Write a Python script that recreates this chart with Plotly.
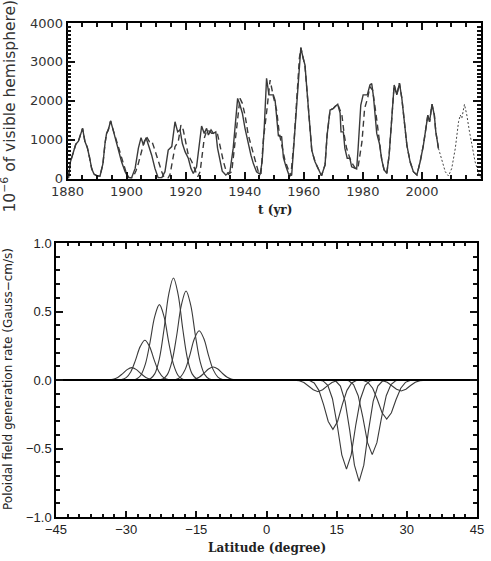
import plotly.graph_objects as go

# ---------------- Top panel data (sunspot area) ----------------
OBS_YEAR = [1880.3, 1881.0, 1882.0, 1882.8, 1883.7, 1884.5, 1885.1, 1885.9, 1886.7, 1887.4,
            1888.2, 1889.0, 1890.0, 1891.0, 1892.0, 1892.7, 1893.2, 1893.8, 1894.6, 1895.3,
            1896.1, 1896.8, 1897.5, 1898.3, 1899.5, 1900.6, 1901.7, 1902.9, 1904.0, 1904.9,
            1905.7, 1906.6, 1907.4, 1908.5, 1909.6, 1910.7, 1911.9, 1913.0, 1914.1, 1915.3,
            1916.4, 1917.3, 1918.1, 1918.9, 1919.8, 1920.9, 1921.8, 1922.6, 1923.7, 1924.5,
            1925.4, 1926.3, 1927.1, 1927.7, 1928.6, 1929.4, 1930.2, 1930.8, 1931.6, 1932.4,
            1933.6, 1935.0, 1936.1, 1936.9, 1937.6, 1938.4, 1939.2, 1940.1, 1941.0, 1942.1,
            1942.9, 1944.0, 1945.2, 1945.9, 1946.6, 1947.4, 1948.2, 1949.7, 1950.3, 1950.8,
            1951.4, 1952.5, 1953.1, 1954.0, 1955.1, 1955.9, 1956.7, 1957.6, 1958.5, 1959.0,
            1959.8, 1960.4, 1961.2, 1961.9, 1962.7, 1963.8, 1964.9, 1966.0, 1967.2, 1967.9,
            1968.9, 1970.0, 1970.6, 1971.5, 1972.3, 1972.6, 1973.4, 1973.9, 1974.7, 1975.6,
            1976.2, 1977.9, 1978.4, 1979.3, 1980.1, 1981.5, 1982.4, 1983.0, 1983.6, 1984.2,
            1984.7, 1985.6, 1986.4, 1987.2, 1988.1, 1988.9, 1989.8, 1990.6, 1991.5, 1992.4,
            1993.2, 1994.0, 1994.9, 1996.0, 1997.1, 1998.3, 1999.4, 2000.5, 2001.3, 2002.0,
            2002.6, 2003.4, 2004.2, 2004.7, 2005.6]
OBS_AREA = [5, 430, 680, 880, 960, 1120, 1290, 950, 800, 560,
            250, 110, 70, 60, 380, 900, 1150, 1250, 1480, 1290,
            1040, 850, 650, 430, 175, 20, 20, 260, 780, 1050,
            860, 1050, 860, 600, 260, 20, 20, 175, 730, 820,
            1460, 1200, 1250, 900, 690, 520, 260, 130, 300, 860,
            1350, 1160, 1290, 1120, 1250, 1160, 1200, 780, 430, 190,
            90, 175, 780, 1460, 2060, 1890, 1680, 1290, 950, 600,
            390, 175, 108, 430, 1290, 2577, 2150, 2150, 2000, 1650,
            1100, 1075, 540, 300, 64, 90, 950, 2060, 3090, 3364,
            3090, 2920, 2150, 1380, 730, 430, 260, 72, 350, 1120,
            1760, 1800, 1850, 1910, 1680, 1200, 1200, 780, 520, 520,
            300, 244, 780, 1890, 2150, 2150, 2405, 2440, 2100, 1680,
            1160, 900, 480, 220, 134, 600, 1630, 2405, 2150, 2450,
            2060, 1460, 860, 430, 175, 90, 430, 860, 1330, 1630,
            1460, 1910, 1630, 1200, 776]

MODEL_YEAR = [1880.3, 1881.0, 1882.0, 1882.8, 1883.7, 1884.5, 1885.1, 1885.9, 1886.7, 1887.4,
              1888.2, 1889.0, 1890.0, 1891.0, 1892.0, 1892.7, 1893.2, 1893.8, 1894.6, 1895.3,
              1896.1, 1896.8, 1897.5, 1898.3, 1899.2, 1900.0, 1900.8, 1901.6, 1902.3, 1903.2,
              1904.0, 1904.8, 1905.5, 1906.2, 1906.8, 1907.7, 1908.5, 1909.2, 1910.0, 1910.8,
              1911.9, 1912.6, 1913.4, 1914.0, 1914.7, 1915.5, 1916.4, 1917.5, 1918.4, 1919.2,
              1920.0, 1920.9, 1922.1, 1923.2, 1924.1, 1924.9, 1925.5, 1926.3, 1927.2, 1928.0,
              1928.8, 1929.9, 1930.8, 1932.0, 1932.8, 1933.6, 1934.5, 1935.6, 1936.5, 1937.3,
              1938.4, 1939.2, 1940.1, 1941.2, 1942.4, 1943.5, 1944.6, 1945.5, 1946.3, 1947.5,
              1948.6, 1949.7, 1950.8, 1951.7, 1952.5, 1953.6, 1954.8, 1955.6, 1956.7, 1957.6,
              1958.5, 1959.0, 1959.8, 1960.4, 1961.2, 1961.9, 1962.7, 1963.8, 1964.9, 1966.0,
              1967.2, 1967.9, 1968.9, 1970.0, 1970.6, 1971.5, 1972.9, 1973.7, 1974.5, 1975.6,
              1976.7, 1977.6, 1978.4, 1979.7, 1980.6, 1981.6, 1982.4, 1983.3, 1984.5, 1985.6,
              1986.4, 1987.2, 1988.1, 1988.9, 1989.8, 1990.6, 1991.5, 1992.4, 1993.2, 1994.0,
              1994.9, 1996.0, 1997.1, 1998.3, 1999.4, 2000.5, 2001.3, 2002.0, 2002.6, 2003.4,
              2004.2, 2004.7, 2005.6]
MODEL_AREA = [5, 430, 680, 880, 960, 1120, 1290, 950, 800, 560,
              250, 110, 70, 60, 380, 900, 1150, 1250, 1480, 1290,
              1080, 900, 720, 500, 300, 120, 30, 5, 46, 200,
              390, 650, 818, 1000, 1075, 947, 970, 820, 620, 430,
              175, 50, 5, 5, 100, 432, 818, 947, 1376, 1247,
              905, 604, 432, 219, 46, 175, 519, 1034, 1247, 1220,
              1162, 1162, 1140, 690, 432, 219, 108, 175, 776, 1461,
              2062, 1933, 1633, 1119, 776, 432, 175, 108, 990, 1762,
              2533, 2105, 1762, 1162, 904, 476, 219, 64, 950, 2060,
              3090, 3364, 3090, 2900, 2150, 1380, 730, 430, 260, 72,
              350, 1120, 1760, 1800, 1850, 1910, 1633, 1119, 776, 519,
              347, 244, 300, 947, 1805, 2062, 2361, 2276, 1633, 1034,
              480, 220, 134, 600, 1630, 2405, 2150, 2450, 2060, 1460,
              860, 430, 175, 90, 430, 860, 1330, 1630, 1460, 1910,
              1630, 1200, 776]

PRED_YEAR = [2005.6, 2006.8, 2007.9, 2009.0, 2010.1, 2011.3, 2012.4, 2013.0, 2013.5, 2014.4,
             2015.2, 2016.1, 2017.1, 2018.0, 2019.2, 2020.0]
PRED_AREA = [776, 432, 175, 64, 262, 776, 1461, 1633, 1548, 1908,
             1633, 1204, 776, 432, 134, 20]

# ---------------- Bottom panel data (poloidal source) ----------------
LAT_OFFSETS = [-6, -5, -4, -3, -2, -1, 0, 1, 2, 3, 4, 5, 6]
BUMP_SHAPE = [0.0, 0.01, 0.06, 0.21, 0.50, 0.84, 1.0, 0.84, 0.50, 0.21, 0.06, 0.01, 0.0]
SOUTH_CENTER = [-28.8, -26.0, -22.9, -19.9, -17.2, -14.4, -11.4]
SOUTH_AMP = [0.09, 0.29, 0.55, 0.745, 0.65, 0.36, 0.095]
NORTH_CENTER = [11.0, 14.2, 17.1, 19.8, 22.6, 25.7, 28.8]
NORTH_AMP = [-0.085, -0.36, -0.65, -0.74, -0.545, -0.285, -0.08]
ZERO_LAT = [-45, 45]
ZERO_VAL = [0, 0]

# ---------------- Tick definitions ----------------
TOP_X_TICKS = [1880, 1900, 1920, 1940, 1960, 1980, 2000, 2020]
TOP_Y_TICKS = [0, 1000, 2000, 3000, 4000]
BOT_X_TICKS = [-45, -30, -15, 0, 15, 30, 45]
BOT_X_LABELS = ["\u221245", "\u221230", "\u221215", "0", "15", "30", "45"]
BOT_Y_TICKS = [-1.0, -0.5, 0.0, 0.5, 1.0]
BOT_Y_LABELS = ["\u22121.0", "\u22120.5", "0.0", "0.5", "1.0"]

W, H = 491, 561
TOP_BOX = (67.5, 481, 23, 178.5)    # left, right, top, bottom in px
BOT_BOX = (56, 477, 243, 517)

def fx(p):
    return p / W
def fy(p):
    return 1 - p / H

LINE = "#3a3a3a"
fig = go.Figure()

fig.add_trace(go.Scatter(x=OBS_YEAR, y=OBS_AREA, mode="lines",
                         line=dict(color=LINE, width=1.4), xaxis="x", yaxis="y"))
fig.add_trace(go.Scatter(x=MODEL_YEAR, y=MODEL_AREA, mode="lines",
                         line=dict(color=LINE, width=1.4, dash="6px,4px"), xaxis="x", yaxis="y"))
fig.add_trace(go.Scatter(x=PRED_YEAR, y=PRED_AREA, mode="lines",
                         line=dict(color="#444", width=1, dash="2px,2px"), xaxis="x", yaxis="y"))

for c, a in zip(SOUTH_CENTER, SOUTH_AMP):
    fig.add_trace(go.Scatter(x=[c + o for o in LAT_OFFSETS], y=[a * s for s in BUMP_SHAPE],
                             mode="lines", line=dict(color=LINE, width=1.1, shape="spline", smoothing=1.0),
                             xaxis="x2", yaxis="y2"))
for c, a in zip(NORTH_CENTER, NORTH_AMP):
    fig.add_trace(go.Scatter(x=[c + o for o in LAT_OFFSETS], y=[a * s for s in BUMP_SHAPE],
                             mode="lines", line=dict(color=LINE, width=1.1),
                             xaxis="x2", yaxis="y2"))
fig.add_trace(go.Scatter(x=ZERO_LAT, y=ZERO_VAL, mode="lines",
                         line=dict(color="black", width=2), xaxis="x2", yaxis="y2"))

# empty traces so the mirror (tick-only) axes on top/right get drawn
for xa, ya in [("x3", "y"), ("x", "y3"), ("x4", "y2"), ("x2", "y4")]:
    fig.add_trace(go.Scatter(x=[None], y=[None], mode="lines", xaxis=xa, yaxis=ya,
                             hoverinfo="skip", showlegend=False))

tickfont_top = dict(family="DejaVu Sans", size=13, color="#333")
tickfont_bot = dict(family="Liberation Sans", size=13, color="#222")
TICKCOL = "#111111"
base = dict(ticks="inside", tickcolor=TICKCOL, tickwidth=2, showgrid=False,
            zeroline=False, automargin=False)

X_TOP = dict(range=[1880, 2020], tickvals=TOP_X_TICKS, ticklen=7,
             minor=dict(dtick=5, tick0=1880, ticklen=4, ticks="inside", tickcolor=TICKCOL, tickwidth=2))
Y_TOP = dict(range=[0, 4000], tickvals=TOP_Y_TICKS, ticklen=8,
             minor=dict(dtick=100, tick0=0, ticklen=4, ticks="inside", tickcolor=TICKCOL, tickwidth=2))
X_BOT = dict(range=[-45, 45], tickvals=BOT_X_TICKS, ticklen=6,
             minor=dict(dtick=2.5, tick0=-45, ticklen=3, ticks="inside", tickcolor=TICKCOL, tickwidth=2))
Y_BOT = dict(range=[-1, 1], tickvals=BOT_Y_TICKS, ticklen=7,
             minor=dict(dtick=0.1, tick0=-1, ticklen=4, ticks="inside", tickcolor=TICKCOL, tickwidth=2))

frame = dict(showline=True, linecolor="black", linewidth=1.5, mirror=True)

fig.update_layout(
    width=W, height=H, margin=dict(l=0, r=0, t=0, b=0),
    paper_bgcolor="white", plot_bgcolor="white", showlegend=False,
    xaxis=dict(domain=[fx(TOP_BOX[0]), fx(TOP_BOX[1])], anchor="y",
               tickfont=tickfont_top, **X_TOP, **frame, **base),
    yaxis=dict(domain=[fy(TOP_BOX[3]), fy(TOP_BOX[2])], anchor="x",
               tickfont=tickfont_top, **Y_TOP, **frame, **base),
    xaxis3=dict(overlaying="x", side="top", anchor="y", showticklabels=False,
                showline=False, **X_TOP, **base),
    yaxis3=dict(overlaying="y", side="right", anchor="x", showticklabels=False,
                showline=False, **Y_TOP, **base),
    xaxis2=dict(domain=[fx(BOT_BOX[0]), fx(BOT_BOX[1])], anchor="y2", ticktext=BOT_X_LABELS,
                tickfont=tickfont_bot, **X_BOT, **frame, **base),
    yaxis2=dict(domain=[fy(BOT_BOX[3]), fy(BOT_BOX[2])], anchor="x2", ticktext=BOT_Y_LABELS,
                tickfont=tickfont_bot, **Y_BOT, **frame, **base),
    xaxis4=dict(overlaying="x2", side="top", anchor="y2", showticklabels=False,
                showline=False, **X_BOT, **base),
    yaxis4=dict(overlaying="y2", side="right", anchor="x2", showticklabels=False,
                showline=False, **Y_BOT, **base),
)

fig.add_annotation(text="t (yr)", x=fx(275), y=fy(210), xref="paper", yref="paper",
                   showarrow=False, xanchor="center", yanchor="middle",
                   font=dict(family="DejaVu Serif", size=12, color="#222", weight="bold"))
fig.add_annotation(text="Latitude (degree)", x=fx(267), y=fy(548), xref="paper", yref="paper",
                   showarrow=False, xanchor="center", yanchor="middle",
                   font=dict(family="DejaVu Serif", size=12, color="#222", weight="bold"))
fig.add_annotation(text="Poloidal field generation rate (Gauss\u2212cm/s)", x=fx(8), y=fy(379),
                   xref="paper", yref="paper", showarrow=False, textangle=-90,
                   xanchor="center", yanchor="middle",
                   font=dict(family="DejaVu Sans", size=12, color="#222"))
fig.add_annotation(text="10<sup>\u22126</sup> of visible hemisphere)", x=fx(9), y=fy(215),
                   xref="paper", yref="paper", showarrow=False, textangle=-90,
                   xanchor="center", yanchor="bottom",
                   font=dict(family="DejaVu Sans", size=15.5, color="#333"))

fig.write_html("out.html")
